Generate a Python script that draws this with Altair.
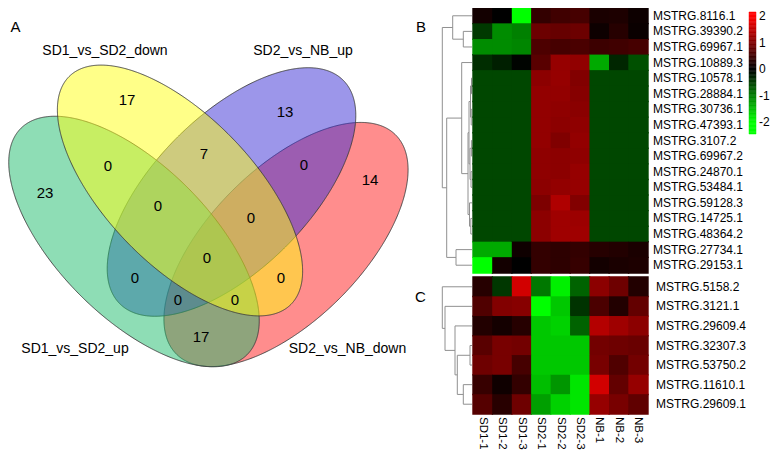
import numpy as np
import pandas as pd
import altair as alt

FONT = "Liberation Sans"

# ---------------- Venn data (panel A) ----------------
set_names = ["SD1_vs_SD2_up", "SD1_vs_SD2_down", "SD2_vs_NB_up", "SD2_vs_NB_down"]
set_fill = ["#1EBB6C", "#FFFF12", "#3A2ED6", "#FF1C1C"]
draw_order = [3, 2, 0, 1]  # red, blue, green, yellow
# ellipse geometry (reference pixel units): centre, semi-axes, clockwise tilt in degrees
ell_cx = [127, 173, 224.5, 279]
ell_cy = [241.5, 190.5, 192, 244.5]
ell_a = [160, 159, 158, 155]
ell_b = [76, 74, 77, 76]
ell_tilt = [45, 46, 135, 135]
set_label_x = [68, 98, 296, 340.5]
set_label_y = [349, 51, 51, 349]

region_counts = [23, 17, 13, 14, 0, 7, 0, 0, 0, 0, 0, 0, 0, 0, 17]
region_x = [38, 120, 278, 363, 101, 197, 297, 151, 244, 200, 128, 274, 171, 228, 194]
region_y = [193, 100, 112, 180, 166, 154, 165, 206, 218, 258, 278, 278, 300, 300, 337]

# ---------------- Heatmap data (panels B, C) ----------------
samples = ["SD1-1", "SD1-2", "SD1-3", "SD2-1", "SD2-2", "SD2-3", "NB-1", "NB-2", "NB-3"]
genes_B = ["MSTRG.8116.1", "MSTRG.39390.2", "MSTRG.69967.1", "MSTRG.10889.3",
           "MSTRG.10578.1", "MSTRG.28884.1", "MSTRG.30736.1", "MSTRG.47393.1",
           "MSTRG.3107.2", "MSTRG.69967.2", "MSTRG.24870.1", "MSTRG.53484.1",
           "MSTRG.59128.3", "MSTRG.14725.1", "MSTRG.48364.2", "MSTRG.27734.1",
           "MSTRG.29153.1"]
expr_B = [
    [0.15, 0.0, -2.0, 0.40, 0.50, 0.55, 0.20, 0.23, 0.10],
    [-0.45, -1.10, -1.00, 0.85, 0.80, 0.85, 0.10, 0.30, 0.08],
    [-1.10, -1.10, -1.05, 0.60, 0.55, 0.58, 0.47, 0.50, 0.55],
    [-0.35, -0.24, -0.03, 0.70, 1.18, 1.14, -1.33, -0.30, -0.63],
    [-0.56, -0.56, -0.56, 1.10, 1.18, 1.02, -0.56, -0.56, -0.56],
    [-0.56, -0.56, -0.56, 1.15, 1.15, 1.05, -0.56, -0.56, -0.56],
    [-0.56, -0.56, -0.56, 1.15, 1.12, 1.08, -0.56, -0.56, -0.56],
    [-0.56, -0.56, -0.56, 1.15, 1.10, 1.12, -0.56, -0.56, -0.56],
    [-0.56, -0.56, -0.56, 1.15, 1.00, 1.15, -0.56, -0.56, -0.56],
    [-0.56, -0.56, -0.56, 1.12, 1.10, 1.12, -0.56, -0.56, -0.56],
    [-0.56, -0.56, -0.56, 1.12, 1.10, 1.18, -0.56, -0.56, -0.56],
    [-0.56, -0.56, -0.56, 1.10, 1.15, 1.18, -0.56, -0.56, -0.56],
    [-0.56, -0.56, -0.56, 0.98, 1.37, 1.02, -0.56, -0.56, -0.56],
    [-0.56, -0.56, -0.56, 1.10, 1.25, 1.22, -0.56, -0.56, -0.56],
    [-0.56, -0.56, -0.56, 1.10, 1.25, 1.25, -0.56, -0.56, -0.56],
    [-1.33, -1.33, 0.12, 0.40, 0.35, 0.40, 0.30, 0.27, 0.20],
    [-2.00, 0.15, 0.0, 0.40, 0.35, 0.42, 0.15, 0.20, 0.23],
]
genes_C = ["MSTRG.5158.2", "MSTRG.3121.1", "MSTRG.29609.4", "MSTRG.32307.3",
           "MSTRG.53750.2", "MSTRG.11610.1", "MSTRG.29609.1"]
expr_C = [
    [0.30, -0.43, 1.65, -0.94, -1.88, -0.78, 1.10, 0.86, 0.27],
    [0.63, 1.02, 1.06, -2.00, -1.57, -0.40, 0.59, 0.27, 0.78],
    [0.27, 0.16, 0.30, -1.57, -1.65, -0.78, 1.41, 1.25, 1.10],
    [0.70, 0.94, 0.90, -1.57, -1.57, -1.57, 0.90, 0.86, 0.82],
    [0.86, 0.94, 0.55, -1.57, -1.57, -1.57, 0.94, 0.63, 0.90],
    [0.43, 0.12, 0.40, -1.49, -1.18, -1.80, 1.65, 0.78, 1.18],
    [0.67, 0.31, 0.86, -1.25, -1.65, -1.80, 1.18, 0.94, 0.75],
]
# hierarchical clustering merges: (left, right, height); new nodes numbered after leaves
link_B = [(4, 5, 0.05), (6, 7, 0.08), (17, 18, 0.15), (8, 9, 0.06), (10, 11, 0.10),
          (20, 21, 0.20), (19, 22, 0.30), (13, 14, 0.12), (12, 24, 0.25), (23, 25, 0.40),
          (3, 26, 1.03), (1, 2, 0.87), (0, 28, 1.93), (15, 16, 1.60), (27, 30, 2.53),
          (29, 31, 2.97)]
link_C = [(3, 4, 0.20), (5, 6, 0.87), (7, 8, 1.47), (2, 9, 1.70), (1, 10, 2.70),
          (0, 11, 2.97)]
legend_ticks = [2, 1, 0, -1, -2]


# ---------------- helpers ----------------
def ellipse_frame(cx, cy, a, b, tilt):
    th = np.radians(tilt)
    u = np.array([np.cos(th), np.sin(th)])
    v = np.array([-np.sin(th), np.cos(th)])
    M = a * a * np.outer(u, u) + b * b * np.outer(v, v)
    hx = np.sqrt(M[0, 0])
    det = np.linalg.det(M)
    t = np.linspace(np.pi, 0, 401)
    dx = hx * np.cos(t)
    root = np.sqrt(np.clip(det * (M[0, 0] - dx ** 2), 0, None))
    return pd.DataFrame({"x": cx + dx,
                         "y1": cy + (M[0, 1] * dx - root) / M[0, 0],
                         "y2": cy + (M[0, 1] * dx + root) / M[0, 0]})


def dendro_segments(links, n):
    pos = {i: float(i) for i in range(n)}
    hgt = {i: 0.0 for i in range(n)}
    segs = []
    for k, (l, r, h) in enumerate(links):
        for c in (l, r):
            segs.append(dict(h1=hgt[c], h2=h, p1=pos[c], p2=pos[c]))
        segs.append(dict(h1=h, h2=h, p1=pos[l], p2=pos[r]))
        pos[n + k] = (pos[l] + pos[r]) / 2
        hgt[n + k] = h
    return pd.DataFrame(segs)


def long_frame(genes, values):
    return pd.DataFrame([(g, s, z) for g, row in zip(genes, values)
                         for s, z in zip(samples, row)], columns=["gene", "sample", "z"])


# ---------------- Panel A : Venn ----------------
vx = alt.Scale(domain=[0, 400], range=[-1, 399], nice=False, zero=False)
vy = alt.Scale(domain=[0, 400], range=[-8, 392], nice=False, zero=False)

venn_layers = []
for i in draw_order:
    df = ellipse_frame(ell_cx[i], ell_cy[i], ell_a[i], ell_b[i], ell_tilt[i])
    venn_layers.append(
        alt.Chart(df).mark_area(fill=set_fill[i], fillOpacity=0.5, stroke="#3c3c3c",
                                strokeWidth=0.9, interpolate="linear").encode(
            x=alt.X("x:Q", scale=vx, axis=None),
            y=alt.Y("y1:Q", scale=vy, axis=None, stack=None),
            y2="y2:Q"))

df_regions = pd.DataFrame({"n": region_counts, "x": region_x, "y": region_y})
venn_layers.append(
    alt.Chart(df_regions).mark_text(font=FONT, fontSize=15, color="black",
                                    align="center", baseline="middle").encode(
        x=alt.X("x:Q", scale=vx, axis=None), y=alt.Y("y:Q", scale=vy, axis=None),
        text="n:N"))
df_setlab = pd.DataFrame({"name": set_names, "x": set_label_x, "y": set_label_y})
venn_layers.append(
    alt.Chart(df_setlab).mark_text(font=FONT, fontSize=14, color="black",
                                   align="center", baseline="middle").encode(
        x=alt.X("x:Q", scale=vx, axis=None), y=alt.Y("y:Q", scale=vy, axis=None),
        text="name:N"))
df_A = pd.DataFrame({"t": ["A"], "x": [8.5], "y": [27]})
venn_layers.append(
    alt.Chart(df_A).mark_text(font=FONT, fontSize=15, color="black",
                              align="center", baseline="middle").encode(
        x=alt.X("x:Q", scale=vx, axis=None), y=alt.Y("y:Q", scale=vy, axis=None),
        text="t:N"))
venn = alt.layer(*venn_layers)

# ---------------- Heatmaps ----------------
cscale = alt.Scale(domain=[-2, 0, 2], range=["#00FF00", "#000000", "#FF0000"],
                   interpolate="rgb", clamp=True)
xband = alt.Scale(domain=samples, range=[465, 640], paddingInner=0, paddingOuter=0)

B_RANGE = [0, 265]
C_RANGE = [269, 406]


def heat_group(genes, values, yrange, label_x, with_cols):
    yb = alt.Scale(domain=genes, range=yrange, paddingInner=0, paddingOuter=0)
    df = long_frame(genes, values)
    enc = dict(x=alt.X("sample:N", scale=xband, axis=None),
               y=alt.Y("gene:N", scale=yb, axis=None),
               color=alt.Color("z:Q", scale=cscale, legend=None))
    # underlay with a stroke of the same colour hides anti-aliasing seams
    under = alt.Chart(df).mark_rect(strokeWidth=1.4).encode(
        stroke=alt.Stroke("z:Q", scale=cscale, legend=None), **enc)
    rect = alt.Chart(df).mark_rect().encode(**enc)
    labs = alt.Chart(pd.DataFrame({"gene": genes})).mark_text(
        font=FONT, fontSize=12, align="left", baseline="middle", color="black").encode(
        y=alt.Y("gene:N", scale=yb, axis=None), x=alt.value(label_x), text="gene:N")
    layers = [under, rect, labs]
    if with_cols:
        layers.append(alt.Chart(pd.DataFrame({"sample": samples})).mark_text(
            font=FONT, fontSize=11.5, angle=90, align="left", baseline="middle",
            color="black").encode(
            x=alt.X("sample:N", scale=xband, axis=None), y=alt.value(yrange[1] + 3),
            text="sample:N"))
    return alt.layer(*layers)


def dendro(links, n, yrange):
    seg = dendro_segments(links, n)
    return alt.Chart(seg).mark_rule(color="#909090", strokeWidth=1).encode(
        x=alt.X("h1:Q", scale=alt.Scale(domain=[0, 3], range=[464, 434], nice=False,
                                        zero=False), axis=None),
        x2="h2:Q",
        y=alt.Y("p1:Q", scale=alt.Scale(domain=[-0.5, n - 0.5], range=yrange,
                                        nice=False, zero=False), axis=None),
        y2="p2:Q")


heatB = heat_group(genes_B, expr_B, B_RANGE, 645, False)
heatC = heat_group(genes_C, expr_C, C_RANGE, 648, True)
dendB = dendro(link_B, len(genes_B), B_RANGE)
dendC = dendro(link_C, len(genes_C), C_RANGE)

# ---------------- colour bar ----------------
cb_lo, cb_hi, step = -2.45, 2.15, 0.05
cb_v = np.round(np.arange(cb_lo, cb_hi - 1e-9, step), 3)
df_cb = pd.DataFrame({"v": cb_v, "v2": np.round(cb_v + step, 3), "c": cb_v + step / 2})
cby = alt.Scale(domain=[cb_lo, cb_hi], range=[126, 4], nice=False, zero=False)
cbar = alt.Chart(df_cb).mark_rect(strokeWidth=0.5).encode(
    y=alt.Y("v:Q", scale=cby, axis=None), y2="v2:Q",
    x=alt.value(741), x2=alt.value(748),
    color=alt.Color("c:Q", scale=cscale, legend=None),
    stroke=alt.Stroke("c:Q", scale=cscale, legend=None))
cblab = alt.Chart(pd.DataFrame({"t": legend_ticks})).mark_text(
    font=FONT, fontSize=12, align="left", baseline="middle", color="black").encode(
    y=alt.Y("t:Q", scale=cby, axis=None), x=alt.value(751), text="t:N")
colorbar = alt.layer(cbar, cblab)

# ---------------- panel letters B / C ----------------
letters = alt.Chart(pd.DataFrame({"t": ["B", "C"], "px": [413, 412.5], "py": [19, 289]})).mark_text(
    font=FONT, fontSize=15, align="center", baseline="middle", color="black").encode(
    x=alt.X("px:Q", scale=alt.Scale(domain=[0, 762], range=[0, 762], nice=False, zero=False), axis=None),
    y=alt.Y("py:Q", scale=alt.Scale(domain=[0, 442], range=[0, 442], nice=False, zero=False), axis=None),
    text="t:N")

chart = alt.layer(venn, dendB, dendC, heatB, heatC, colorbar, letters).resolve_scale(
    x="independent", y="independent", color="independent", stroke="independent"
).properties(
    width=762, height=442, padding=0, autosize=alt.AutoSizeParams(type="none")
).configure_view(strokeWidth=0)

chart.save("out.html", embed_options={"renderer": "svg", "actions": False})
